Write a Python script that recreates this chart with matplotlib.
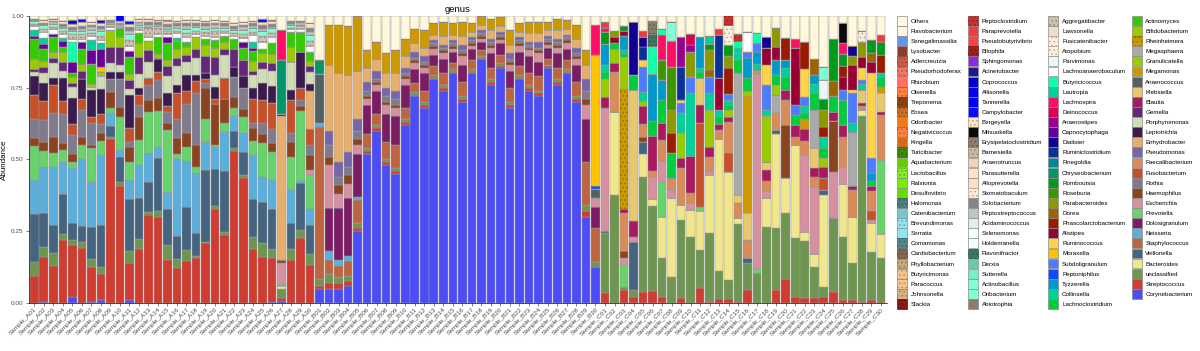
import matplotlib
matplotlib.use("Agg")
import matplotlib.pyplot as plt
from matplotlib.patches import Patch
from matplotlib.colors import to_rgb

plt.rcParams['font.family'] = ['Liberation Sans', 'DejaVu Sans']
plt.rcParams['hatch.linewidth'] = 0.5

samples = (["Sample_A%02d" % i for i in range(1, 31)] +
           ["Sample_B%02d" % i for i in range(1, 31)] +
           ["Sample_C%02d" % i for i in range(1, 31)])

# legend order (top of the stack first), colours in the same order
genus_names = [
    'Others', 'Flavobacterium', 'Senegalimassilia', 'Lysobacter', 'Adlercreutzia', 'Pseudorhodoferax',
    'Rhizobium', 'Olsenella', 'Treponema', 'Bosea', 'Odoribacter', 'Negativicoccus', 'Kingella',
    'Turicibacter', 'Aquabacterium', 'Lactobacillus', 'Ralstonia', 'Desulfovibrio', 'Halomonas',
    'Catenibacterium', 'Brevundimonas', 'Serratia', 'Comamonas', 'Cardiobacterium', 'Phyllobacterium',
    'Butyricimonas', 'Paracoccus', 'Johnsonella', 'Slackia',
    'Peptoclostridium', 'Paraprevotella', 'Pseudobutyrivibrio', 'Bilophila', 'Sphingomonas',
    'Acinetobacter', 'Coprococcus', 'Allisonella', 'Tannerella', 'Campylobacter', 'Bergeyella',
    'Mitsuokella', 'Erysipelatoclostridium', 'Barnesiella', 'Anaerotruncus', 'Parasutterella',
    'Alloprevotella', 'Stomatobaculum', 'Solobacterium', 'Peptostreptococcus', 'Acidaminococcus',
    'Selenomonas', 'Holdemanella', 'Flavonifractor', 'Derxia', 'Sutterella', 'Actinobacillus',
    'Oribacterium', 'Abiotrophia',
    'Aggregatibacter', 'Lawsonella', 'Fusicatenibacter', 'Atopobium', 'Parvimonas',
    'Lachnoanaerobaculum', 'Butyricicoccus', 'Lautropia', 'Lachnospira', 'Deinococcus',
    'Anaerostipes', 'Capnocytophaga', 'Dialister', 'Ruminiclostridium', 'Finegoldia',
    'Chryseobacterium', 'Romboutsia', 'Roseburia', 'Parabacteroides', 'Dorea',
    'Phascolarctobacterium', 'Alistipes', 'Ruminococcus', 'Moraxella', 'Subdoligranulum',
    'Peptoniphilus', 'Tyzzerella', 'Collinsella', 'Lachnoclostridium',
    'Actinomyces', 'Bifidobacterium', 'Rheinheimera', 'Megasphaera', 'Granulicatella', 'Megamonas',
    'Anaerococcus', 'Klebsiella', 'Blautia', 'Gemella', 'Porphyromonas', 'Leptotrichia',
    'Enhydrobacter', 'Pseudomonas', 'Faecalibacterium', 'Fusobacterium', 'Rothia', 'Haemophilus',
    'Escherichia', 'Prevotella', 'Dolosigranulum', 'Neisseria', 'Staphylococcus', 'Veillonella',
    'Bacteroides', 'unclassified', 'Streptococcus', 'Corynebacterium']

genus_colors = [
    '#FFF8DC', '#FDF5E2', '#6495ED', '#8B3E2F', '#D05A48', '#F47560',
    '#FF7060', '#FF7F3F', '#8B4513', '#D06A20', '#EE7A1E', '#FF8040', '#D4691E',
    '#3C8C0C', '#66CD00', '#80F020', '#76EE00', '#66DD00', '#4C8080',
    '#7AC5CD', '#8EE5EE', '#8EE5EE', '#53868B', '#876650', '#C8A878',
    '#F4C48C', '#F4C48C', '#D8B484', '#8B1A1A',
    '#C83232', '#EE3B3B', '#FF4040', '#A01E1E', '#8A2BE2',
    '#1A1A8B', '#0000CD', '#0000EE', '#0000FF', '#0A0AFF', '#FFE4C4',
    '#0A0A0A', '#8B7D6B', '#CDB79E', '#EED5B7', '#FFE4C4',
    '#FFE0C0', '#FAEBD7', '#868686', '#C0C4C4', '#E0EEEE',
    '#F0FFFF', '#F0FFFF', '#3C7860', '#66CDAA', '#76EEC6', '#7FFFD4',
    '#80FFD0', '#8B7D6B',
    '#CDC0B0', '#EEDFCC', '#FFEFDB', '#FFEFDB', '#EAF8FA',
    '#FFFFFF', '#10FFA8', '#00D09C', '#FF0F64', '#DC0050',
    '#9A0090', '#660099', '#140090', '#0A3296', '#008899',
    '#00966A', '#00991A', '#3C9600', '#8C9A00', '#9A6400',
    '#9C1A00', '#990033', '#FFD247', '#FFC300', '#4C7CFF',
    '#1448FF', '#0099CC', '#00D09A', '#00CC3C',
    '#33CC00', '#99CC00', '#CC9900', '#AAAAAA', '#99CC00', '#CC9900',
    '#566060', '#E6C86E', '#A8195F', '#642878', '#D1DDB5', '#3B1B4E',
    '#E6AF6E', '#7864A8', '#D98C5A', '#C85028', '#7F7A8C', '#8C4420',
    '#D6909F', '#66D46A', '#7C1C64', '#5AAFDC', '#BE6440', '#45647F',
    '#F0E68C', '#6E9650', '#D03C30', '#4C4CF8']

# genera drawn with a dotted fill
dotted = ['Adlercreutzia', 'Pseudorhodoferax', 'Olsenella', 'Treponema', 'Bosea', 'Negativicoccus',
          'Turicibacter', 'Lactobacillus', 'Halomonas', 'Brevundimonas', 'Comamonas',
          'Cardiobacterium', 'Phyllobacterium', 'Butyricimonas', 'Paracoccus', 'Johnsonella',
          'Slackia', 'Peptoclostridium', 'Bilophila', 'Bergeyella', 'Erysipelatoclostridium',
          'Barnesiella', 'Stomatobaculum', 'Flavonifractor', 'Aggregatibacter',
          'Fusicatenibacter', 'Atopobium', 'Rheinheimera']

Z = [0] * 30

# relative abundance per genus, samples A01-A30, B01-B30, C01-C30
corynebacterium = (
    [0, .005, 0, 0, .02, 0, .005, .01, 0, 0, .01, 0, 0, 0, 0, 0, 0, 0, 0, 0, 0, 0, 0, 0, 0, .005, .008, 0, 0, 0] +
    [.048, .05, .05, .06, .25, .52, .60, .48, .45, .62, .72, .68, .78, .74, .80, .70, .80, .85, .76, .82, .68, .78, .74, .72, .82, .76, .80, .70, .30, .127] +
    Z)
streptococcus = (
    [.095, .156, .129, .22, .182, .19, .119, .09, .571, .408, .128, .187, .307, .298, .15, .121, .147, .156, .208, .326, .237, .531, .434, .187, .161, .15, .01, .15, .225, .133] +
    [.012, .02, .02, .015, .01, .01, .01, .01, .01, .01, .005, .01, .005, .01, .005, .01, .005, .005, .01, .005, .01, .005, .01, .01, .005, .01, .005, .01, .02, 0] +
    [.034, 0, .045, .022, .04, .043, .022, 0, .016, 0, .051, .005, .013, .013, .005, .045, 0, 0, .045, .082, .02, .016, .016, .022, .04, .01, .01, .005, .01, .005])
unclassified = (
    [.049, .035, .046, .019, .018, .024, .028, .027, .009, .015, .044, .035, .011, .024, .052, .031, .038, .008, .006, .012, .012, .008, .012, .042, .047, .032, .03, .037, .03, .038] +
    [.023, .03, .02, .02, .02, .01, .01, .01, .01, .01, .01, .01, .01, .01, .01, .01, .01, .005, .01, .01, .01, .01, .01, .01, .005, .01, .01, .01, .02, .017] +
    [.209, .376, .012, .023, .4, .295, .134, .092, .273, .231, .134, .24, .1, .067, .27, .093, .103, .266, .215, .23, .205, .2, .11, .035, .255, .22, .128, .645, .168, .15])
bacteroides = (
    [0] * 26 + [.012, 0, 0, 0] +
    Z +
    [0, .29, 0, 0, .08, .023, .145, .273, .052, .093, .134, .2, .46, .377, .02, 0, 0, .1, .33, .122, .325, .03, .046, .32, 0, .186, .163, .023, .1, .087])
veillonella = (
    [.166, .119, .097, .141, .058, .054, .112, .143, .037, .087, .182, .143, .105, .182, .124, .081, .148, .079, .249, .128, .212, .061, .081, .132, .145, .14, 0, .093, .163, .102] +
    Z +
    [.007, 0, 0, .168, .04, 0, 0, 0, 0, 0, 0, 0, 0, 0, 0, .017, 0, 0, .012, 0, 0, 0, 0, .017, 0, 0, 0, 0, 0, 0])
staphylococcus = (
    Z +
    [.53, .05, .04, .05, .08, .05, .04, .06, .08, .04, .03, .04, .03, .04, .02, .05, .03, .02, .04, .03, .05, .03, .04, .05, .02, .04, .03, .05, .15, .116] +
    Z)
neisseria = (
    [.12, .158, .203, .112, .191, .232, .159, .244, .044, .023, .064, .116, .101, .041, .062, .267, .163, .211, .099, .076, .136, .051, .064, .155, .087, .1, 0, .114, .006, .055] +
    [.015, .03, .02, .02, .01] + [0] * 25 +
    Z)
dolosigranulum = (
    Z +
    [0, .15, .18, .2, .15, .1, .08, .1, .1, .08, .05, .06, .04, .05, .04, .06, .04, .03, .05, .04, .06, .05, .06, .05, .04, .05, .04, .06, .15, .075] +
    Z)
prevotella = (
    [.118, .058, .049, .041, .023, .05, .116, .052, .017, .114, .064, .087, .143, .125, .215, .019, .046, .021, .078, .008, .031, .03, .057, .05, .119, .1, .005, .116, .244, .117] +
    Z +
    [0, 0, .075, 0, 0, 0, .122, 0, 0, 0, .017, 0, 0, 0, 0, 0, .017, 0, 0, 0, 0, 0, 0, 0, 0, 0, 0, 0, 0, .255])
escherichia = (
    [0] * 26 + [.075, 0, 0, .02] +
    [0, .15, .05, .05, .03, .02, .02, .03, .03, .02, .02, .02, .02, .02, .01, .03, .01, .01, .02, .01, .02, .02, .02, .03, .01, .02, .02, .02, .05, .032] +
    [.428, 0, .023, .017, 0, .079, .07, .029, 0, .023, 0, .014, 0, 0, 0, 0, .677, .023, 0, 0, 0, .27, .232, 0, .16, .058, 0, 0, .012, 0])
haemophilus = (
    [.026, .031, .056, .023, .027, .03, .012, .026, .056, .035, .052, .079, .04, .043, .023, .055, .051, .075, .108, .145, .082, .035, .027, .043, .03, .03, .01, .052, .02, .049] +
    [0, .03, .03, .03, .02, .01, .01, .01, .01, .01, .01, .01, .01, .01, .01, .01, .01, .01, .01, .01, .01, .01, .01, .01, .01, .01, .01, .01, .02, 0] +
    [0, 0, .027, 0, .017, 0, 0, 0, 0, 0, 0, 0, 0, 0, 0, 0, 0, 0, 0, .186, 0, 0, 0, 0, .18, 0, 0, 0, 0, 0])
rothia = (
    [.067, .076, .083, .103, .066, .092, .075, .03, .045, .097, .017, .043, .053, .064, .04, .066, .1, .183, .02, 0, 0, .07, .075, .017, .037, .05, 0, .029, .02, .035] +
    [0, .04, .03, .03, .03, .02, .01, .02, .02, .01, .01, .01, .01, .01, .01, .01, .01, .01, .01, .01, .01, .01, .01, .01, .01, .01, .01, .01, .03, 0] +
    Z)
fusobacterium = (
    [.083, .067, .097, .046, .039, .038, .021, .038, 0, 0, .047, .035, .023, .029, .02, .09, .047, .042, .012, .017, .073, 0, 0, .084, .081, .09, 0, .116, .04, .058] +
    Z +
    [0, 0, 0, 0, 0, 0, 0, 0, 0, 0, .29, 0, 0, .064, 0, 0, 0, 0, 0, 0, 0, 0, 0, .04, 0, 0, 0, 0, .03, 0])
faecalibacterium = (
    Z + Z +
    [0, .14, .13, 0, .046, .02, .075, .04, .128, .035, 0, .05, .03, .11, .052, .064, .014, .035, .06, .087, .03, .05, .035, 0, 0, .105, .093, .012, .07, .157])
pseudomonas = (
    Z +
    [0, .05, .05, .05, .04, .03, .03, .03, .03, .02, .02, .02, .01, .01, .01, .02, .01, .01, .01, .01, .02, .01, .01, .02, .01, .01, .01, .02, .04, 0] +
    Z)
enhydrobacter = (
    [0] * 26 + [.5, 0, 0, .131] +
    [0, .23, .31, .27, .17, .05, .04, .05, .06, .04, .03, .03, .02, .03, .02, .03, .02, .02, .03, .02, .03, .02, .03, .03, .02, .03, .02, .03, .05, 0] +
    Z)
leptotrichia = (
    [.067, .063, .023, .078, .089, .069, .095, .084, .027, .027, .116, .023, 0, .043, .045, .029, .054, .02, .023, .041, 0, .035, .04, .038, .058, .06, .01, .035, .126, .026] +
    Z + Z)
porphyromonas = (
    [.015, .032, .052, .025, .038, 0, .012, .047, .029, .023, .021, .049, .057, 0, .06, .066, .047, .06, 0, .041, .08, 0, 0, .046, .049, .05, 0, .099, 0, .04] +
    Z + Z)
gemella = (
    [.01, .021, .02, .033, .015, .03, 0, 0, .058, .064, .031, .061, .041, .005, .035, .027, .023, .029, .056, .064, .023, .065, .058, .015, .027, .03, 0, 0, 0, .02] +
    Z + Z)
blautia = (
    Z + Z +
    [.04, .03, .015, .056, .064, .122, .058, 0, .035, .13, .064, .035, .02, .017, 0, 0, 0, .04, 0, .035, .04, .04, .03, .04, .029, .04, .012, .012, .017, .012])
klebsiella = (
    Z + Z +
    [0, 0, 0, .455, 0, 0, 0, 0, 0, 0, .093, 0, 0, 0, .029, .093, 0, .026, 0, 0, 0, 0, .07, 0, 0, 0, 0, .045, 0, .064])
anaerococcus = Z + [.17] + [0] * 28 + [.03] + Z
megamonas = (
    Z +
    [0, .14, .17, .17, .19, .06, .06, .07, .08, .06, .05, .06, .04, .05, .04, .05, .03, .03, .04, .03, .05, .03, .04, .04, .03, .04, .03, .05, .05, 0] +
    [0] * 15 + [.41] + [0] * 5 + [.035] + [0] * 7 + [.023])
granulicatella = (
    [.035, .023, .021, .035, .02, .025, .01, .014, .058, .035, .023, .049, .032, .015, .02, .032, .029, .044, .04, .029, .023, 0, 0, .035, .029, .03, 0, .052, 0, .02] +
    Z +
    [0, .05, 0, 0, .017] + [0] * 10 + [.017] + [0] * 14)
megasphaera = Z + Z + [0] * 14 + [.425, 0, 0, 0, .064, 0, 0, 0, .134, 0, 0, 0, .19, 0, 0, 0]
rheinheimera = Z + Z + [0, 0, .42] + [0] * 27
bifidobacterium = (
    Z + Z +
    [.064, 0, .11, 0, 0, 0, 0, 0, .087, 0, 0, .128, 0, .023, 0, 0, 0, .16, .035, 0, 0, 0, 0, .03, 0, 0, 0, 0, 0, 0])
actinomyces = (
    [.07, .04, .052, .017, .015, .05, .07, 0, 0, .029, .058, .035, 0, .058, .06, .03, .017, 0, .02, .03, .02, .035, .04, .035, .014, .04, 0, .05, .07, .03] +
    Z + Z)
lachnoclostridium = (
    Z + Z +
    [.023, .02, .012, .053, 0, .052, .08, .087, 0, 0, .023, 0, .025, .018, .046, .046, 0, 0, .034, .046, .035, .02, .06, .035, .058, .087, 0, 0, .017, .035])
collinsella = (
    Z + Z +
    [.023, 0, .012, 0, .03, 0, 0, 0, .07, .218, .012, .058, .025, .018, .023, 0, .02, .023, 0, .029, 0, .026, .03, .04, 0, 0, .03, .02, 0, .012])
tyzzerella = (
    Z + Z +
    [.075, 0, .05, 0, 0, .163, .07, 0, 0, 0, .11, 0, 0, 0, 0, .07, .045, 0, .052, .029, 0, 0, .03, 0, 0, 0, 0, 0, .03, 0])
peptoniphilus = Z + [0] * 29 + [.012] + Z
subdoligranulum = (
    Z + Z +
    [0, 0, 0, 0, .087, 0, 0, 0, .035, .058, 0, .058, 0, .02, 0, .02, .029, .087, 0, 0, .035, .029, 0, 0, 0, .035, .105, .016, .05, 0])
moraxella = [0] * 7 + [.017] + [0] * 22 + [0] * 29 + [.455] + Z
ruminococcus = (
    Z + Z +
    [0, 0, 0, 0, .026, 0, 0, 0, .01, 0, 0, 0, 0, 0, 0, 0, 0, .07, 0, 0, 0, .1, 0, 0, 0, 0, .012, .04, .296, 0])
alistipes = (
    Z + Z +
    [0, .02, .017, 0, 0, 0, 0, 0, 0, 0, 0, 0, .11, 0, 0, 0, 0, .058, .046, 0, .2, 0, 0, 0, 0, .046, .087, .04, .04, 0])
phascolarctobacterium = (
    Z + Z +
    [0, 0, 0, 0, 0, 0, 0, .07, 0, 0, 0, 0, 0, .093, 0, 0, 0, 0, 0, .076, 0, .093, 0, .035, 0, .04, 0, 0, 0, .064])
dorea = Z + Z + [0] * 11 + [.023] + [0] * 10 + [.058, 0, .052, 0, 0, 0, .03, 0]
parabacteroides = (
    Z + Z +
    [0, .02, 0, 0, 0, 0, 0, .08, 0, .087, 0, .07, 0, .04, 0, 0, 0, 0, .064, 0, 0, 0, 0, .058, 0, 0, .03, .05, 0, 0])
roseburia = Z + Z + [0] * 6 + [.07, .15] + [0] * 22
romboutsia = (
    Z + Z +
    [.04, 0, .017, 0, 0, 0, 0, 0, 0, 0, 0, .02, 0, .04, 0, 0, 0, 0, 0, 0, 0, 0, 0, .04, .145, .04, 0, 0, .046, .046])
chryseobacterium = [0] * 26 + [.186, 0, 0, 0] + [.05] + [0] * 29 + Z
ruminiclostridium = Z + Z + [0, 0, 0, 0, .046, 0, 0, 0, .116, 0, 0, 0, .15] + [0] * 17
dialister = Z + Z + [0, 0, 0, .186, .035] + [0] * 12 + [.04] + [0] * 8 + [.035, 0, 0, 0]
capnocytophaga = (
    [.01, .02, .01, .02, .04, .027, .046, .064, 0, 0, .02, 0, 0, 0, .02, 0, 0, 0, 0, 0, 0, 0, .02, .01, 0, 0, 0, 0, 0, 0] +
    Z + Z)
anaerostipes = Z + Z + [0] * 8 + [.105, .023] + [0] * 20
deinococcus = Z + Z + [0] * 9 + [.04] + [0] * 20
lachnospira = ([0] * 26 + [.105, 0, 0, 0] + [0] * 29 + [.105] +
               [.015, 0, 0, 0, 0, 0, .087, .093] + [0] * 12 + [.03, 0, 0, 0, 0, .04, 0, 0, 0, 0])
lautropia = ([.02, .02, 0, .01, 0, 0, .035, .02, 0, 0, 0, 0, 0, 0, 0, .01, 0, 0, 0, 0, 0, 0, 0, .02, 0, 0, 0, 0, 0, 0] +
             Z + [0] * 11 + [.03, 0, 0, .02] + [0] * 15)
butyricicoccus = [0] * 4 + [.07] + [0] * 25 + Z + [0] * 5 + [.1, .02] + [0] * 7 + [.023, 0, .035] + [0] * 13
lachnoanaerobaculum = (
    [.015, .02, .015, .015, .01, .01, .015, .01, .01, .005, .02, .01, .015, .01, .01, .015, .015, .01, .01, .01, .01, .01, .015, .025, .025, .02, 0, .01, .01, .02] +
    Z + [0] * 15 + [.07] + [0] * 14)
parvimonas = Z + Z + [0] * 23 + [.064] + [0] * 6
fusicatenibacter = Z + Z + [0] * 13 + [.07] + [0] * 16
aggregatibacter = (
    [.005, .01, .01, .01, .015, .015, .01, .015, .005, .005, .02, .01, .03, .02, .01, .01, .015, .01, .015, .02, .01, .01, .015, .01, .02, .015, 0, .005, .01, .02] +
    Z + Z)
solobacterium = (
    [.005, .008, .005, .01, .01, .01, .01, .01, .005, .005, .015, .005, .01, .01, .01, .01, .01, .01, .01, .01, .01, .01, .01, .01, .015, .01, 0, .005, .005, .015] +
    Z + Z)
alloprevotella = (
    [.005, .008, .007, .01, .01, .012, .01, .01, .005, .005, .01, .008, .01, .008, .01, .01, .01, .01, .01, .01, .01, .01, .01, .01, .01, .01, 0, .005, .005, .015] +
    Z + Z)
oribacterium = (
    [.01, .015, .01, .01, .01, .01, .01, .015, .005, .005, .02, .008, .005, .007, .01, .01, .015, .012, .01, .01, .01, .01, .012, .015, .02, .015, 0, .01, .005, .02] +
    Z + Z)
peptostreptococcus = (
    [0, 0, .005, .005, .005, .01, .01, .01, .005, 0, .01, .005, .005, .005, .005, .005, .01, .005, .01, .01, .005, .005, .01, .005, .005, .005, 0, .005, .005, .01] +
    Z + Z)
tannerella = [0, 0, 0, 0, .015, .01, 0, .01, 0, .02, .01, 0, 0, 0, .005, 0, 0, 0, 0, 0, 0, 0, 0, 0, .01, .005, 0, 0, 0, 0] + Z + Z
actinobacillus = Z + Z + [0] * 7 + [.064] + [0] * 15 + [.046] + [0] * 6
flavonifractor = Z + Z + [0] * 5 + [.04] + [0] * 24
erysipelatoclostridium = Z + Z + [0] * 5 + [.045] + [0] * 24
mitsuokella = Z + Z + [0] * 25 + [.07] + [0] * 4
stomatobaculum = Z + Z + [0] * 27 + [.04, 0, 0]
paraprevotella = Z + Z + [.02, 0, 0, 0, .02] + [0] * 7 + [.02] + [0] * 16 + [.023]
peptoclostridium = Z + Z + [0] * 13 + [.045, .023] + [0] * 15

abundance = {
    'Corynebacterium': corynebacterium, 'Streptococcus': streptococcus, 'unclassified': unclassified,
    'Bacteroides': bacteroides, 'Veillonella': veillonella, 'Staphylococcus': staphylococcus,
    'Neisseria': neisseria, 'Dolosigranulum': dolosigranulum, 'Prevotella': prevotella,
    'Escherichia': escherichia, 'Haemophilus': haemophilus, 'Rothia': rothia,
    'Fusobacterium': fusobacterium, 'Faecalibacterium': faecalibacterium, 'Pseudomonas': pseudomonas,
    'Enhydrobacter': enhydrobacter, 'Leptotrichia': leptotrichia, 'Porphyromonas': porphyromonas,
    'Gemella': gemella, 'Blautia': blautia, 'Klebsiella': klebsiella, 'Anaerococcus': anaerococcus,
    'Megamonas': megamonas, 'Granulicatella': granulicatella, 'Megasphaera': megasphaera,
    'Rheinheimera': rheinheimera, 'Bifidobacterium': bifidobacterium, 'Actinomyces': actinomyces,
    'Lachnoclostridium': lachnoclostridium, 'Collinsella': collinsella, 'Tyzzerella': tyzzerella,
    'Peptoniphilus': peptoniphilus, 'Subdoligranulum': subdoligranulum, 'Moraxella': moraxella,
    'Ruminococcus': ruminococcus, 'Alistipes': alistipes, 'Phascolarctobacterium': phascolarctobacterium,
    'Dorea': dorea, 'Parabacteroides': parabacteroides, 'Roseburia': roseburia, 'Romboutsia': romboutsia,
    'Chryseobacterium': chryseobacterium, 'Ruminiclostridium': ruminiclostridium, 'Dialister': dialister,
    'Capnocytophaga': capnocytophaga, 'Anaerostipes': anaerostipes, 'Deinococcus': deinococcus,
    'Lachnospira': lachnospira, 'Lautropia': lautropia, 'Butyricicoccus': butyricicoccus,
    'Lachnoanaerobaculum': lachnoanaerobaculum, 'Parvimonas': parvimonas,
    'Fusicatenibacter': fusicatenibacter, 'Aggregatibacter': aggregatibacter,
    'Solobacterium': solobacterium, 'Alloprevotella': alloprevotella, 'Oribacterium': oribacterium,
    'Peptostreptococcus': peptostreptococcus, 'Tannerella': tannerella,
    'Actinobacillus': actinobacillus, 'Flavonifractor': flavonifractor,
    'Erysipelatoclostridium': erysipelatoclostridium, 'Mitsuokella': mitsuokella,
    'Stomatobaculum': stomatobaculum, 'Paraprevotella': paraprevotella,
    'Peptoclostridium': peptoclostridium,
}

n = len(samples)
# Others = whatever is left of each sample after the named genera
others = []
for j in range(n):
    s = sum(v[j] for v in abundance.values())
    others.append(max(0.0, 1.0 - s))
abundance['Others'] = others


def darker(c, f=0.68):
    r, g, b = to_rgb(c)
    return (r * f, g * f, b * f)


fig = plt.figure(figsize=(12, 3.51), dpi=100)
ax = fig.add_axes([0.0238, 0.1368, 0.7150, 0.8177])

x = list(range(n))
bottom = [0.0] * n
handles = {}
for name, col in reversed(list(zip(genus_names, genus_colors))):
    vals = abundance.get(name, [0.0] * n)
    if name in dotted:
        ec, hatch = darker(col), '....'
    else:
        ec, hatch = '#9a9a9a', None
    ax.bar(x, vals, bottom=bottom, width=0.9, color=col,
           edgecolor=ec, linewidth=0.35, hatch=hatch)
    bottom = [b + v for b, v in zip(bottom, vals)]
    handles[name] = Patch(facecolor=col, edgecolor=ec if hatch else '#8c8c8c',
                          linewidth=0.5, hatch=hatch)

ax.set_xlim(-0.6, n - 0.4)
ax.set_ylim(0, 1)
ax.set_yticks([0, 0.25, 0.5, 0.75, 1.0])
ax.set_yticklabels(['0.00', '0.25', '0.50', '0.75', '1.00'])
ax.set_xticks(x)
ax.set_xticklabels(samples, rotation=45, ha='right', rotation_mode='anchor')
ax.tick_params(axis='both', labelsize=4.6, colors='#4d4d4d', length=2, width=0.5, pad=1.5)
ax.tick_params(axis='x', pad=1)
for side in ['top', 'right']:
    ax.spines[side].set_visible(False)
for side in ['left', 'bottom']:
    ax.spines[side].set_linewidth(0.5)
ax.set_ylabel('Abundance', fontsize=5.8, labelpad=2)
ax.set_title('genus', fontsize=6.8, pad=3)

leg = fig.legend([handles[g] for g in genus_names], genus_names, ncol=4,
                 loc='upper left', bbox_to_anchor=(897 / 1200, 1 - 16 / 351),
                 frameon=False, fontsize=4.5, handlelength=1.6, handleheight=2.05,
                 labelspacing=0.04, handletextpad=0.6, columnspacing=1.0,
                 borderpad=0, borderaxespad=0)

fig.savefig('out.png', dpi=100)
